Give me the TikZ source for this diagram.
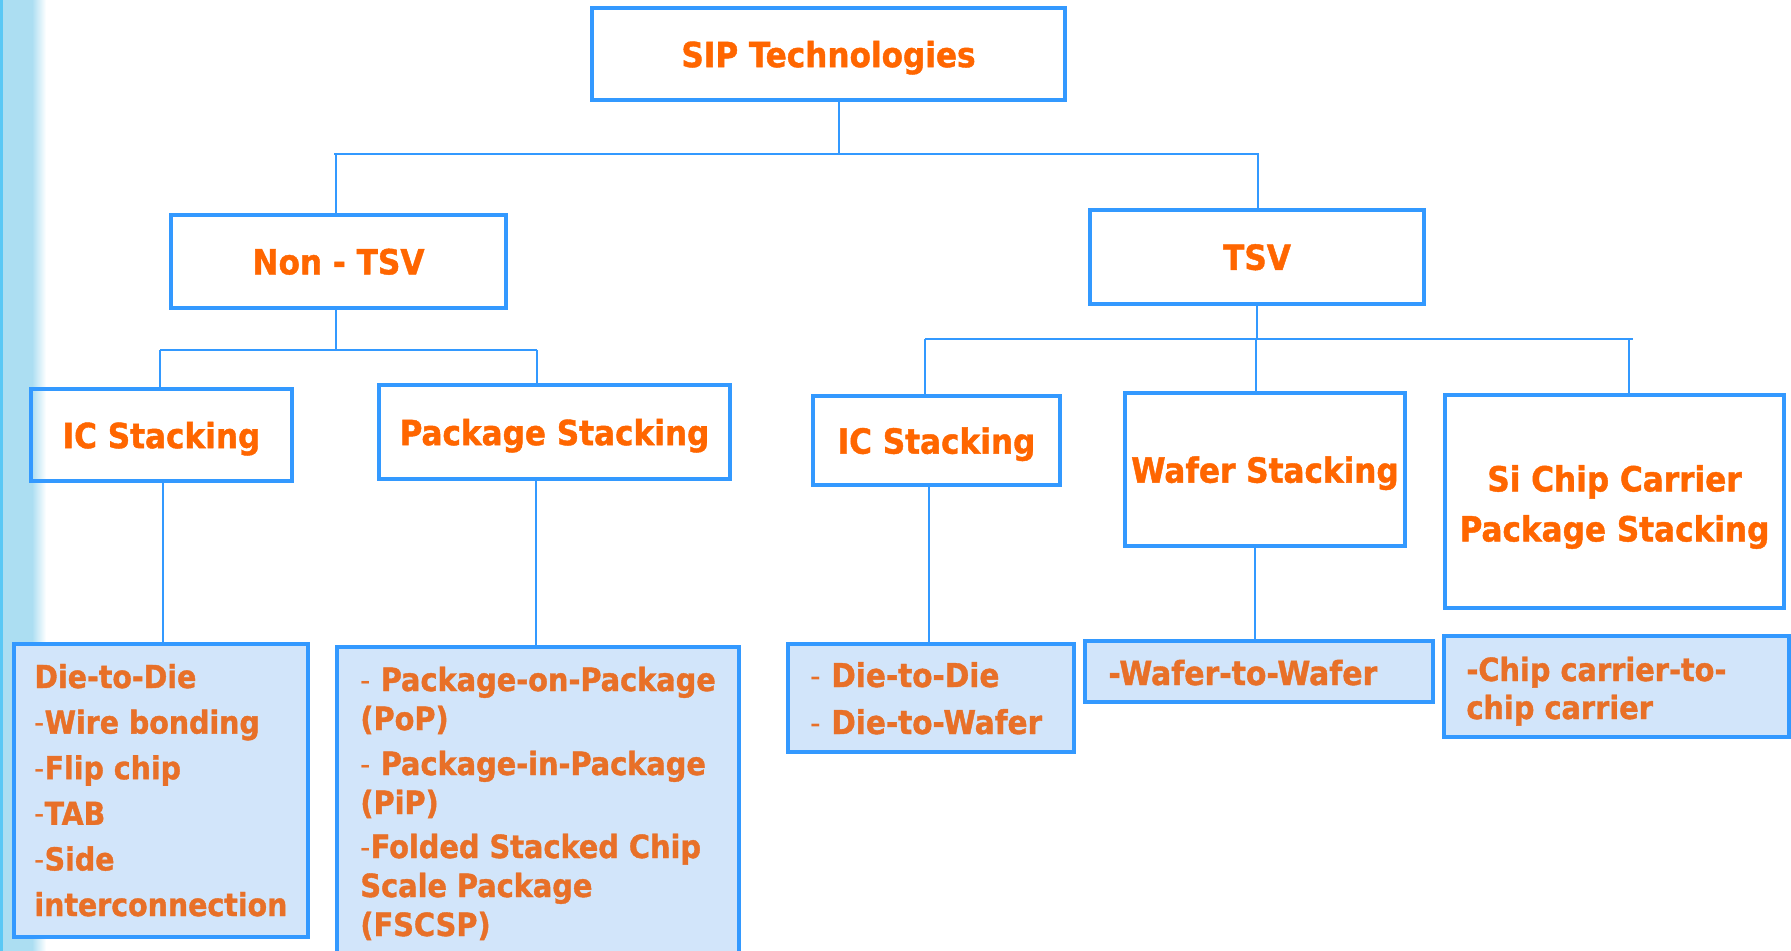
\documentclass[tikz,border=0pt]{standalone}
\usepackage{fontspec}
\setmainfont{DejaVu Sans Condensed}[BoldFeatures={FakeBold=1.2}]
\definecolor{boxblue}{RGB}{51,153,255}
\definecolor{hdr}{RGB}{255,102,0}
\definecolor{subtxt}{RGB}{232,112,40}
\definecolor{gridblue}{RGB}{210,229,250}
\definecolor{stripc}{RGB}{172,222,242}
\definecolor{stripedge}{RGB}{90,200,245}
\newcommand{\hfont}{\fontsize{17.3}{21}\selectfont\bfseries}
\newcommand{\stfont}{\fontsize{16.2}{23.5}\selectfont\bfseries}
\newcommand{\dd}{{\mdseries -}}
\begin{document}
\begin{tikzpicture}[x=0.5pt,y=-0.5pt,
  box/.style={draw=boxblue, line width=2pt, inner sep=0pt, text=hdr, font=\hfont, align=center, text depth=0pt},
  hdrtext/.style={inner sep=0pt, text=hdr, font=\hfont, align=center},
  sub/.style={draw=boxblue, line width=2pt, inner sep=0pt, fill=gridblue},
  lnk/.style={draw=boxblue, line width=1pt},
  txt/.style={anchor=base west, align=left, inner sep=0pt, text=subtxt, font=\stfont}]
\clip (0,0) rectangle (1791,951);
\fill[white] (0,0) rectangle (1791,951);
\fill[stripc] (0,0) rectangle (32,951);
\shade[left color=stripc, right color=white] (32,0) rectangle (46,951);
\fill[stripedge] (0,0) rectangle (3,951);

% header boxes
\node[box, minimum width=236.5pt, minimum height=46pt] (sip) at (828.5,54) {SIP Technologies};
\node[box, minimum width=167.5pt, minimum height=46.5pt] (ntsv) at (338.5,261.5) {Non - TSV};
\node[box, minimum width=167pt, minimum height=47pt] (tsv) at (1257,257) {TSV};
\node[box, minimum width=130.5pt, minimum height=46pt] (ics1) at (161.5,435) {IC Stacking};
\node[box, minimum width=175.5pt, minimum height=47pt] (pks) at (554.5,432) {Package Stacking};
\node[box, minimum width=123.5pt, minimum height=44.5pt] (ics2) at (936.5,440.5) {IC Stacking};
\node[box, minimum width=140pt, minimum height=76.5pt] (wafs) at (1265,469.5) {Wafer Stacking};
\node[box, minimum width=169.5pt, minimum height=106.5pt] (sicc) at (1614.5,501.5) {};
\node[hdrtext] (sicct) at (1614.5,507) {Si Chip Carrier\\[4pt]Package Stacking};

% bottom boxes
\node[sub, minimum width=147pt, minimum height=146.5pt] (b1) at (161,790.5) {};
\node[sub, minimum width=201pt, minimum height=166.5pt] (b2) at (538,813.5) {};
\node[sub, minimum width=143pt, minimum height=54pt] (b3) at (931,698) {};
\node[sub, minimum width=174pt, minimum height=30.5pt] (b4) at (1259,671.5) {};
\node[sub, minimum width=172.5pt, minimum height=50.5pt] (b5) at (1616.5,686.5) {};

% texts (anchored at the baseline of their last line)
\node[txt, font=\fontsize{15.8}{22.8}\selectfont\bfseries] (t1) at (34,916) {Die-to-Die\\\dd Wire bonding\\\dd Flip chip\\\dd TAB\\\dd Side\\interconnection};
\node[txt, font=\fontsize{16}{19.5}\selectfont\bfseries] (t2) at (360,936) {\dd{} Package-on-Package\\(PoP)\\[3pt]\dd{} Package-in-Package\\(PiP)\\[2.5pt]\dd Folded Stacked Chip\\Scale Package\\(FSCSP)};
\node[txt, font=\fontsize{16.4}{23.5}\selectfont\bfseries] (t3) at (810,734) {\dd{} Die-to-Die\\\dd{} Die-to-Wafer};
\node[txt, font=\fontsize{16.6}{23.5}\selectfont\bfseries] (t4) at (1108,685) {-Wafer-to-Wafer};
\node[txt, font=\fontsize{16}{19}\selectfont\bfseries] (t5) at (1466,719) {-Chip carrier-to-\\chip carrier};

% connectors
\coordinate (j0) at (839,154);
\coordinate (jl) at (334,154);
\coordinate (jr) at (1259,154);
\coordinate (dn) at (336,154);
\coordinate (dt) at (1258,154);
\draw[lnk] (sip.south -| j0) -- (j0);
\draw[lnk] (jl) -- (jr);
\draw[lnk] (dn) -- (ntsv.north -| dn);
\draw[lnk] (dt) -- (tsv.north -| dt);

\coordinate (n0) at (336,350);
\coordinate (nl) at (160,350);
\coordinate (nr) at (537,350);
\draw[lnk] (ntsv.south -| n0) -- (n0);
\draw[lnk] (nl) -- (nr);
\draw[lnk] (nl) -- (ics1.north -| nl);
\draw[lnk] (nr) -- (pks.north -| nr);

\coordinate (t0) at (1257,339);
\coordinate (tl) at (925,339);
\coordinate (tr) at (1633,339);
\coordinate (tm) at (1256,339);
\coordinate (tq) at (1629,339);
\draw[lnk] (tsv.south -| t0) -- (t0);
\draw[lnk] (tl) -- (tr);
\draw[lnk] (tl) -- (ics2.north -| tl);
\draw[lnk] (tm) -- (wafs.north -| tm);
\draw[lnk] (tq) -- (sicc.north -| tq);

\coordinate (c1) at (163,0);
\coordinate (c2) at (536,0);
\coordinate (c3) at (929,0);
\coordinate (c4) at (1255,0);
\draw[lnk] (ics1.south -| c1) -- (b1.north -| c1);
\draw[lnk] (pks.south -| c2) -- (b2.north -| c2);
\draw[lnk] (ics2.south -| c3) -- (b3.north -| c3);
\draw[lnk] (wafs.south -| c4) -- (b4.north -| c4);
\end{tikzpicture}
\end{document}
